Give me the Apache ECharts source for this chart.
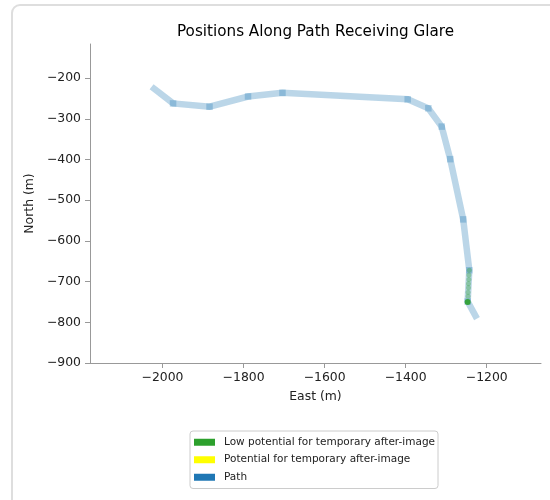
<!DOCTYPE html>
<html><head><meta charset="utf-8">
<script src="https://cdn.jsdelivr.net/npm/echarts@6/dist/echarts.min.js"></script>
<style>html,body{margin:0;padding:0;background:#fff}#c{width:550px;height:500px}</style>
</head><body><div id="c"></div>
<script>
const pathEast  = [-2027, -1974, -1884, -1789, -1704, -1395, -1344, -1311, -1290, -1258, -1243, -1247, -1224];
const pathNorth = [-221, -262, -270, -245, -236, -252, -274, -319, -399, -547, -672, -749, -791];
const glareEast  = [-1243, -1244, -1244, -1245, -1245, -1246, -1246, -1247];
const glareNorth = [-672, -684, -695, -705, -715, -726, -736, -750];
const xTicks = [-2000, -1800, -1600, -1400, -1200];
const yTicks = [-900, -800, -700, -600, -500, -400, -300, -200];
const nameLow = 'Low potential for temporary after-image';
const nameMid = 'Potential for temporary after-image';
const namePath = 'Path';
const titleText = 'Positions Along Path Receiving Glare';

const FONT = 'DejaVu Sans';
const fmt = v => (v < 0 ? '\u2212' : '') + Math.abs(v);
const pathData = pathEast.map((x, i) => [x, pathNorth[i]]);
const vertexData = pathData.slice(1, -1);
const glareData = glareEast.map((x, i) => i === glareEast.length - 1
  ? { value: [x, glareNorth[i]], symbolSize: 6, itemStyle: { opacity: 0.9 } }
  : [x, glareNorth[i]]);

const chart = echarts.init(document.getElementById('c'), null, { renderer: 'canvas' });
chart.setOption({
  animation: false,
  backgroundColor: '#fff',
  title: {
    text: titleText, left: 172, top: 20,
    textStyle: { fontFamily: FONT, fontSize: 15.2, fontWeight: 'normal', color: '#000' }
  },
  graphic: [{
    type: 'rect', z: -10, silent: true,
    shape: { x: 12, y: 5, width: 700, height: 700, r: 8 },
    style: { fill: 'none', stroke: '#dedede', lineWidth: 2 }
  }],
  grid: { left: 90, right: 9, top: 44, bottom: 137, containLabel: false },
  xAxis: {
    type: 'value', min: -2179, max: -1066,
    name: 'East (m)', nameLocation: 'middle', nameGap: 28,
    nameTextStyle: { fontFamily: FONT, fontSize: 12.4, color: '#222' },
    axisLine: { show: true, onZero: false, lineStyle: { color: '#999' } },
    axisTick: { show: true, length: 5, customValues: xTicks, lineStyle: { color: '#999' } },
    axisLabel: { customValues: xTicks, formatter: fmt, margin: 9, fontFamily: FONT, fontSize: 12.4, color: '#222' },
    splitLine: { show: false }
  },
  yAxis: {
    type: 'value', min: -900, max: -116,
    name: 'North (m)', nameLocation: 'middle', nameGap: 48, nameRotate: 90,
    nameTextStyle: { fontFamily: FONT, fontSize: 12.4, color: '#222' },
    axisLine: { show: true, onZero: false, lineStyle: { color: '#999' } },
    axisTick: { show: true, length: 5, customValues: yTicks, lineStyle: { color: '#999' } },
    axisLabel: { customValues: yTicks, formatter: fmt, margin: 9, fontFamily: FONT, fontSize: 12.4, color: '#222' },
    splitLine: { show: false }
  },
  legend: {
    orient: 'vertical', left: 190, top: 431,
    padding: [5, 3, 5, 4], itemGap: 5,
    itemWidth: 21, itemHeight: 7,
    borderColor: '#cccccc', borderWidth: 1, borderRadius: 3,
    textStyle: { fontFamily: FONT, fontSize: 10.5, lineHeight: 12.5, color: '#222', padding: [0, 0, 0, 4] },
    data: [
      { name: nameLow, icon: 'rect', itemStyle: { color: '#2ca02c', opacity: 1 } },
      { name: nameMid, icon: 'rect', itemStyle: { color: '#ffff00', opacity: 1 } },
      { name: namePath, icon: 'rect', itemStyle: { color: '#1f77b4', opacity: 1 } }
    ]
  },
  series: [
    {
      name: namePath, type: 'line', data: pathData, showSymbol: false, z: 1,
      itemStyle: { color: '#1f77b4' },
      lineStyle: { color: '#1f77b4', width: 6.5, opacity: 0.3, cap: 'butt', join: 'miter' }
    },
    {
      name: namePath, type: 'scatter', data: vertexData, symbol: 'rect', symbolSize: 6.5, z: 2,
      itemStyle: { color: '#1f77b4', opacity: 0.3 }
    },
    {
      name: nameMid, type: 'scatter', data: [], itemStyle: { color: '#ffff00' }
    },
    {
      name: nameLow, type: 'scatter', data: glareData, symbolSize: 5, z: 3,
      itemStyle: { color: '#2ca02c', opacity: 0.35 }
    }
  ]
});
</script></body></html>
